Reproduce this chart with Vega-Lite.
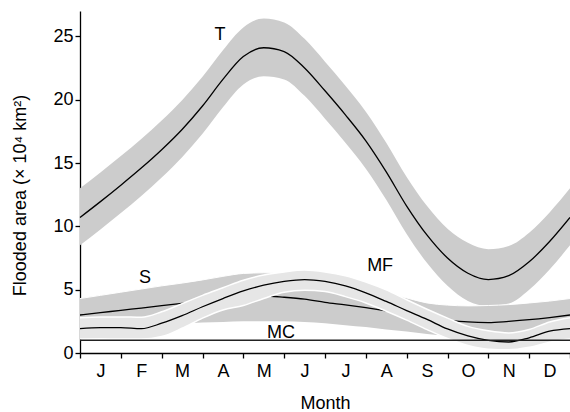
{
  "$schema": "https://vega.github.io/schema/vega-lite/v6.json",
  "width": 490,
  "height": 342,
  "autosize": "none",
  "padding": {"left": 80, "top": 11, "right": 0, "bottom": 59},
  "background": "white",
  "config": {
    "view": {"stroke": null},
    "font": "Liberation Sans",
    "axis": {
      "grid": false,
      "domainColor": "black",
      "domainWidth": 1.3,
      "tickColor": "black",
      "tickWidth": 1.3,
      "tickSize": 5,
      "labelFont": "Liberation Sans",
      "labelFontSize": 18,
      "labelColor": "black",
      "titleFont": "Liberation Sans",
      "titleFontSize": 18,
      "titleFontWeight": "normal",
      "titleColor": "black"
    }
  },
  "datasets": {
    "T": [
      {"m": 0, "c": 10.7, "lo": 8.5, "hi": 13.0},
      {"m": 0.5, "c": 11.95, "lo": 9.75, "hi": 14.25},
      {"m": 1.0, "c": 13.25, "lo": 11.05, "hi": 15.55},
      {"m": 1.5, "c": 14.6, "lo": 12.4, "hi": 16.9},
      {"m": 2.0, "c": 16.05, "lo": 13.85, "hi": 18.35},
      {"m": 2.5, "c": 17.65, "lo": 15.45, "hi": 19.95},
      {"m": 3.0, "c": 19.5, "lo": 17.3, "hi": 21.8},
      {"m": 3.5, "c": 21.6, "lo": 19.4, "hi": 23.9},
      {"m": 4.0, "c": 23.4, "lo": 21.2, "hi": 25.7},
      {"m": 4.5, "c": 24.1, "lo": 21.85, "hi": 26.4},
      {"m": 5.0, "c": 23.8, "lo": 21.6, "hi": 26.1},
      {"m": 5.5, "c": 22.5, "lo": 20.3, "hi": 24.8},
      {"m": 6.0, "c": 20.7, "lo": 18.5, "hi": 23.0},
      {"m": 6.5, "c": 18.8, "lo": 16.6, "hi": 21.1},
      {"m": 7.0, "c": 16.75, "lo": 14.55, "hi": 19.05},
      {"m": 7.5, "c": 14.3, "lo": 12.1, "hi": 16.6},
      {"m": 8.0, "c": 11.6, "lo": 9.4, "hi": 13.9},
      {"m": 8.5, "c": 9.3, "lo": 7.1, "hi": 11.6},
      {"m": 9.0, "c": 7.5, "lo": 5.3, "hi": 9.8},
      {"m": 9.5, "c": 6.3, "lo": 4.1, "hi": 8.7},
      {"m": 10.0, "c": 5.8, "lo": 3.7, "hi": 8.2},
      {"m": 10.5, "c": 6.1, "lo": 3.9, "hi": 8.45},
      {"m": 11.0, "c": 7.2, "lo": 5.0, "hi": 9.5},
      {"m": 11.5, "c": 8.8, "lo": 6.6, "hi": 11.1},
      {"m": 12.0, "c": 10.7, "lo": 8.5, "hi": 13.0}
    ],
    "S": [
      {"m": 0, "c": 3.0, "lo": 1.7, "hi": 4.3},
      {"m": 0.5, "c": 3.18, "lo": 1.8, "hi": 4.55},
      {"m": 1.0, "c": 3.37, "lo": 1.95, "hi": 4.8},
      {"m": 1.5, "c": 3.55, "lo": 2.05, "hi": 5.05},
      {"m": 2.0, "c": 3.74, "lo": 2.15, "hi": 5.3},
      {"m": 2.5, "c": 3.92, "lo": 2.3, "hi": 5.52},
      {"m": 3.0, "c": 4.12, "lo": 2.4, "hi": 5.77},
      {"m": 3.5, "c": 4.32, "lo": 2.45, "hi": 6.05},
      {"m": 4.0, "c": 4.48, "lo": 2.5, "hi": 6.28},
      {"m": 4.5, "c": 4.5, "lo": 2.5, "hi": 6.33},
      {"m": 5.0, "c": 4.4, "lo": 2.5, "hi": 6.25},
      {"m": 5.5, "c": 4.25, "lo": 2.45, "hi": 6.05},
      {"m": 6.0, "c": 4.0, "lo": 2.35, "hi": 5.7},
      {"m": 6.5, "c": 3.8, "lo": 2.2, "hi": 5.4},
      {"m": 7.0, "c": 3.58, "lo": 2.05, "hi": 5.1},
      {"m": 7.5, "c": 3.33, "lo": 1.85, "hi": 4.75},
      {"m": 8.0, "c": 3.05, "lo": 1.7, "hi": 4.35},
      {"m": 8.5, "c": 2.8, "lo": 1.5, "hi": 3.95},
      {"m": 9.0, "c": 2.6, "lo": 1.35, "hi": 3.78},
      {"m": 9.5, "c": 2.45, "lo": 1.2, "hi": 3.72},
      {"m": 10.0, "c": 2.4, "lo": 1.15, "hi": 3.75},
      {"m": 10.5, "c": 2.5, "lo": 1.15, "hi": 3.82},
      {"m": 11.0, "c": 2.63, "lo": 1.25, "hi": 3.95},
      {"m": 11.5, "c": 2.8, "lo": 1.45, "hi": 4.1},
      {"m": 12.0, "c": 3.0, "lo": 1.7, "hi": 4.3}
    ],
    "MF": [
      {"m": 0, "c": 1.92, "lo": 1.1, "hi": 2.78},
      {"m": 0.5, "c": 2.0, "lo": 1.12, "hi": 2.85},
      {"m": 1.0, "c": 2.0, "lo": 1.1, "hi": 2.85},
      {"m": 1.5, "c": 1.92, "lo": 1.1, "hi": 2.82},
      {"m": 2.0, "c": 2.35, "lo": 1.3, "hi": 3.25},
      {"m": 2.5, "c": 2.95, "lo": 1.95, "hi": 3.9},
      {"m": 3.0, "c": 3.65, "lo": 2.75, "hi": 4.55},
      {"m": 3.5, "c": 4.3, "lo": 3.4, "hi": 5.15},
      {"m": 4.0, "c": 4.9, "lo": 3.75, "hi": 5.75},
      {"m": 4.5, "c": 5.35, "lo": 4.3, "hi": 6.15},
      {"m": 5.0, "c": 5.65, "lo": 4.8, "hi": 6.4},
      {"m": 5.5, "c": 5.8, "lo": 4.95, "hi": 6.55},
      {"m": 6.0, "c": 5.65, "lo": 4.85, "hi": 6.4},
      {"m": 6.5, "c": 5.3, "lo": 4.45, "hi": 6.1},
      {"m": 7.0, "c": 4.75, "lo": 3.95, "hi": 5.6},
      {"m": 7.5, "c": 4.07, "lo": 3.3, "hi": 4.98},
      {"m": 8.0, "c": 3.35, "lo": 2.6, "hi": 4.2},
      {"m": 8.5, "c": 2.65, "lo": 1.85, "hi": 3.45},
      {"m": 9.0, "c": 1.9, "lo": 1.15, "hi": 2.75},
      {"m": 9.5, "c": 1.35, "lo": 0.6, "hi": 2.1},
      {"m": 10.0, "c": 1.0, "lo": 0.3, "hi": 1.75},
      {"m": 10.5, "c": 0.87, "lo": 0.25, "hi": 1.58},
      {"m": 11.0, "c": 1.2, "lo": 0.45, "hi": 1.85},
      {"m": 11.5, "c": 1.72, "lo": 0.85, "hi": 2.45},
      {"m": 12.0, "c": 1.92, "lo": 1.1, "hi": 2.78}
    ],
    "MC": [
      {"m": 0, "c": 1.0},
      {"m": 12, "c": 1.0}
    ],
    "labels": [
      {"m": 3.43, "v": 25.1, "t": "T"},
      {"m": 1.59, "v": 5.94, "t": "S"},
      {"m": 7.35, "v": 6.84, "t": "MF"},
      {"m": 4.92, "v": 1.58, "t": "MC"}
    ]
  },
  "layer": [
    {
      "data": {"name": "T"},
      "mark": {"type": "area", "color": "#cccccc", "interpolate": "monotone"},
      "encoding": {
        "x": {
          "field": "m", "type": "quantitative",
          "scale": {"domain": [0, 12], "nice": false, "zero": false},
          "axis": {
            "title": "Month",
            "values": [0, 1, 2, 3, 4, 5, 6, 7, 8, 9, 10, 11, 12],
            "labelExpr": "['J','F','M','A','M','J','J','A','S','O','N','D',''][datum.value]",
            "labelOffset": 20.4,
            "labelBaseline": "alphabetic",
            "labelPadding": 18,
            "labelFlush": false,
            "labelOverlap": false,
            "titleBaseline": "alphabetic",
            "titleX": 245,
            "titleY": 55,
            "titleAnchor": "middle"
          }
        },
        "y": {
          "field": "lo", "type": "quantitative",
          "scale": {"domain": [0, 27], "nice": false},
          "axis": {
            "title": "Flooded area (× 10⁴ km²)",
            "values": [0, 5, 10, 15, 20, 25],
            "labelPadding": 2,
            "titleBaseline": "alphabetic",
            "titleX": -55,
            "titleY": 184,
            "titleAnchor": "middle"
          }
        },
        "y2": {"field": "hi"}
      }
    },
    {
      "data": {"name": "S"},
      "mark": {"type": "area", "color": "#cccccc", "interpolate": "monotone"},
      "encoding": {
        "x": {"field": "m", "type": "quantitative"},
        "y": {"field": "lo", "type": "quantitative"},
        "y2": {"field": "hi"}
      }
    },
    {
      "data": {"name": "S"},
      "mark": {"type": "line", "color": "white", "strokeWidth": 1, "interpolate": "monotone"},
      "encoding": {
        "x": {"field": "m", "type": "quantitative"},
        "y": {"field": "hi", "type": "quantitative"}
      }
    },
    {
      "data": {"name": "S"},
      "mark": {"type": "line", "color": "black", "strokeWidth": 1.3, "interpolate": "monotone"},
      "encoding": {
        "x": {"field": "m", "type": "quantitative"},
        "y": {"field": "c", "type": "quantitative"}
      }
    },
    {
      "data": {"name": "MF"},
      "mark": {"type": "area", "color": "#e6e6e6", "interpolate": "monotone"},
      "encoding": {
        "x": {"field": "m", "type": "quantitative"},
        "y": {"field": "lo", "type": "quantitative"},
        "y2": {"field": "hi"}
      }
    },
    {
      "data": {"name": "MF"},
      "mark": {"type": "line", "color": "white", "strokeWidth": 1.5, "interpolate": "monotone"},
      "encoding": {
        "x": {"field": "m", "type": "quantitative"},
        "y": {"field": "hi", "type": "quantitative"}
      }
    },
    {
      "data": {"name": "MF"},
      "mark": {"type": "line", "color": "white", "strokeWidth": 1.5, "interpolate": "monotone"},
      "encoding": {
        "x": {"field": "m", "type": "quantitative"},
        "y": {"field": "lo", "type": "quantitative"}
      }
    },
    {
      "data": {"name": "MF"},
      "mark": {"type": "line", "color": "black", "strokeWidth": 1.3, "interpolate": "monotone"},
      "encoding": {
        "x": {"field": "m", "type": "quantitative"},
        "y": {"field": "c", "type": "quantitative"}
      }
    },
    {
      "data": {"name": "T"},
      "mark": {"type": "line", "color": "black", "strokeWidth": 1.3, "interpolate": "monotone"},
      "encoding": {
        "x": {"field": "m", "type": "quantitative"},
        "y": {"field": "c", "type": "quantitative"}
      }
    },
    {
      "data": {"name": "MC"},
      "mark": {"type": "line", "color": "#222222", "strokeWidth": 1.5},
      "encoding": {
        "x": {"field": "m", "type": "quantitative"},
        "y": {"field": "c", "type": "quantitative"}
      }
    },
    {
      "data": {"name": "labels"},
      "mark": {"type": "text", "font": "Liberation Sans", "fontSize": 18, "color": "black", "align": "center", "baseline": "middle"},
      "encoding": {
        "x": {"field": "m", "type": "quantitative"},
        "y": {"field": "v", "type": "quantitative"},
        "text": {"field": "t"}
      }
    }
  ]
}
